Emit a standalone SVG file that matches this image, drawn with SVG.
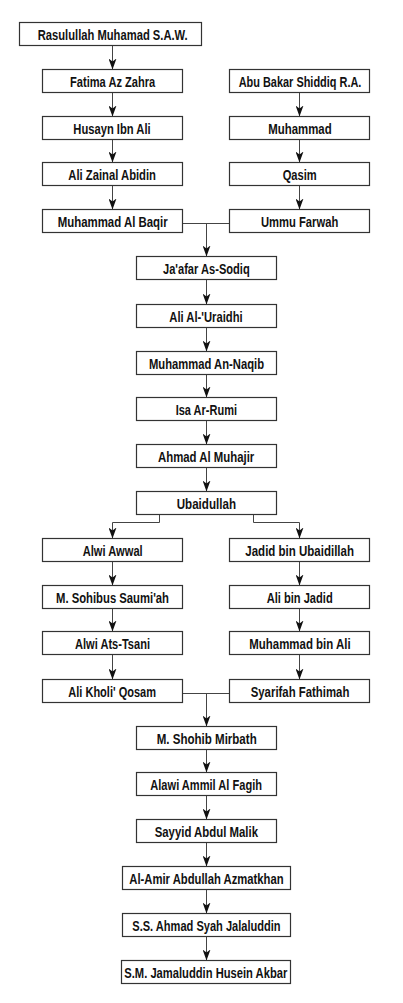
<svg xmlns="http://www.w3.org/2000/svg" width="403" height="1003" viewBox="0 0 403 1003">
<defs>
<style>
.box{fill:#fff;stroke:#333;stroke-width:1.2}
.lbl{font-family:"Liberation Sans",Arial,sans-serif;font-weight:bold;font-size:15.5px;fill:#111}
.ln{fill:none;stroke:#444;stroke-width:1}
.ar{marker-end:url(#ah)}
</style>
<marker id="ah" markerWidth="11" markerHeight="8" refX="11" refY="4" orient="auto" markerUnits="userSpaceOnUse"><path d="M0,0 L11,4 L0,8 L3,4 z" fill="#111"/></marker>
</defs>
<rect width="403" height="1003" fill="#fff"/>
<g id="connectors">
<path class="ln ar" d="M112.5 45.5 V69.5"/>
<path class="ln ar" d="M112.5 92.5 V116.5"/>
<path class="ln ar" d="M112.5 139.5 V162.5"/>
<path class="ln ar" d="M112.5 185.5 V209.5"/>
<path class="ln ar" d="M299.5 92.5 V116.5"/>
<path class="ln ar" d="M299.5 139.5 V162.5"/>
<path class="ln ar" d="M299.5 185.5 V209.5"/>
<path class="ln" d="M182.5 223.5 H229.5"/>
<path class="ln ar" d="M206.5 223.5 V256.5"/>
<path class="ln ar" d="M206.5 279.5 V304.5"/>
<path class="ln ar" d="M206.5 327.5 V351.5"/>
<path class="ln ar" d="M206.5 374.5 V397.5"/>
<path class="ln ar" d="M206.5 420.5 V444.5"/>
<path class="ln ar" d="M206.5 467.5 V491.5"/>
<path class="ln ar" d="M159.5 514.5 V522.5 H112.5 V538.5"/>
<path class="ln ar" d="M253.5 514.5 V522.5 H299.5 V538.5"/>
<path class="ln ar" d="M112.5 561.5 V585.5"/>
<path class="ln ar" d="M112.5 608.5 V631.5"/>
<path class="ln ar" d="M112.5 654.5 V679.5"/>
<path class="ln ar" d="M299.5 561.5 V585.5"/>
<path class="ln ar" d="M299.5 608.5 V631.5"/>
<path class="ln ar" d="M299.5 654.5 V679.5"/>
<path class="ln" d="M182.5 693.5 H229.5"/>
<path class="ln ar" d="M206.5 693.5 V726.5"/>
<path class="ln ar" d="M206.5 749.5 V772.5"/>
<path class="ln ar" d="M206.5 795.5 V819.5"/>
<path class="ln ar" d="M206.5 842.5 V866.5"/>
<path class="ln ar" d="M206.5 889.5 V913.5"/>
<path class="ln ar" d="M206.5 936.5 V960.5"/>
</g>
<g id="n_rasulullah"><rect class="box" x="19.5" y="22.5" width="182" height="23"/><text class="lbl" x="37.7" y="39.8" textLength="150" lengthAdjust="spacingAndGlyphs">Rasulullah Muhamad S.A.W.</text></g>
<g id="n_fatima"><rect class="box" x="42.5" y="69.5" width="140" height="23"/><text class="lbl" x="70" y="86.8" textLength="85.3" lengthAdjust="spacingAndGlyphs">Fatima Az Zahra</text></g>
<g id="n_abubakar"><rect class="box" x="229.5" y="69.5" width="140" height="23"/><text class="lbl" x="238.7" y="86.8" textLength="122.7" lengthAdjust="spacingAndGlyphs">Abu Bakar Shiddiq R.A.</text></g>
<g id="n_husayn"><rect class="box" x="42.5" y="116.5" width="140" height="23"/><text class="lbl" x="73.3" y="133.8" textLength="77.3" lengthAdjust="spacingAndGlyphs">Husayn Ibn Ali</text></g>
<g id="n_muhammad1"><rect class="box" x="229.5" y="116.5" width="140" height="23"/><text class="lbl" x="268.3" y="133.8" textLength="63.3" lengthAdjust="spacingAndGlyphs">Muhammad</text></g>
<g id="n_alizainal"><rect class="box" x="42.5" y="162.5" width="140" height="23"/><text class="lbl" x="68.3" y="179.8" textLength="87.7" lengthAdjust="spacingAndGlyphs">Ali Zainal Abidin</text></g>
<g id="n_qasim"><rect class="box" x="229.5" y="162.5" width="140" height="23"/><text class="lbl" x="282.7" y="179.8" textLength="34" lengthAdjust="spacingAndGlyphs">Qasim</text></g>
<g id="n_baqir"><rect class="box" x="42.5" y="209.5" width="140" height="23"/><text class="lbl" x="57.7" y="226.8" textLength="110" lengthAdjust="spacingAndGlyphs">Muhammad Al Baqir</text></g>
<g id="n_ummu"><rect class="box" x="229.5" y="209.5" width="140" height="23"/><text class="lbl" x="261" y="226.8" textLength="77.3" lengthAdjust="spacingAndGlyphs">Ummu Farwah</text></g>
<g id="n_jaafar"><rect class="box" x="136.5" y="256.5" width="140" height="23"/><text class="lbl" x="163" y="273.8" textLength="86.7" lengthAdjust="spacingAndGlyphs">Ja'afar As-Sodiq</text></g>
<g id="n_uraidhi"><rect class="box" x="136.5" y="304.5" width="140" height="23"/><text class="lbl" x="169.3" y="321.8" textLength="73.3" lengthAdjust="spacingAndGlyphs">Ali Al-'Uraidhi</text></g>
<g id="n_naqib"><rect class="box" x="136.5" y="351.5" width="140" height="23"/><text class="lbl" x="149" y="368.8" textLength="115" lengthAdjust="spacingAndGlyphs">Muhammad An-Naqib</text></g>
<g id="n_isa"><rect class="box" x="136.5" y="397.5" width="140" height="23"/><text class="lbl" x="175.7" y="414.8" textLength="61.3" lengthAdjust="spacingAndGlyphs">Isa Ar-Rumi</text></g>
<g id="n_ahmad"><rect class="box" x="136.5" y="444.5" width="140" height="23"/><text class="lbl" x="158" y="461.8" textLength="96.3" lengthAdjust="spacingAndGlyphs">Ahmad Al Muhajir</text></g>
<g id="n_ubaidullah"><rect class="box" x="136.5" y="491.5" width="140" height="23"/><text class="lbl" x="176.7" y="508.8" textLength="59.3" lengthAdjust="spacingAndGlyphs">Ubaidullah</text></g>
<g id="n_alwiawwal"><rect class="box" x="42.5" y="538.5" width="140" height="23"/><text class="lbl" x="82.7" y="555.8" textLength="60" lengthAdjust="spacingAndGlyphs">Alwi Awwal</text></g>
<g id="n_jadid"><rect class="box" x="229.5" y="538.5" width="140" height="23"/><text class="lbl" x="245.3" y="555.8" textLength="108.7" lengthAdjust="spacingAndGlyphs">Jadid bin Ubaidillah</text></g>
<g id="n_sohibus"><rect class="box" x="42.5" y="585.5" width="140" height="23"/><text class="lbl" x="56" y="602.8" textLength="113" lengthAdjust="spacingAndGlyphs">M. Sohibus Saumi'ah</text></g>
<g id="n_alibinjadid"><rect class="box" x="229.5" y="585.5" width="140" height="23"/><text class="lbl" x="266.7" y="602.8" textLength="66" lengthAdjust="spacingAndGlyphs">Ali bin Jadid</text></g>
<g id="n_alwitsani"><rect class="box" x="42.5" y="631.5" width="140" height="23"/><text class="lbl" x="75" y="648.8" textLength="75" lengthAdjust="spacingAndGlyphs">Alwi Ats-Tsani</text></g>
<g id="n_muhammadbinali"><rect class="box" x="229.5" y="631.5" width="140" height="23"/><text class="lbl" x="249.3" y="648.8" textLength="101.3" lengthAdjust="spacingAndGlyphs">Muhammad bin Ali</text></g>
<g id="n_alikholi"><rect class="box" x="42.5" y="679.5" width="140" height="23"/><text class="lbl" x="68.3" y="696.8" textLength="87.7" lengthAdjust="spacingAndGlyphs">Ali Kholi' Qosam</text></g>
<g id="n_syarifah"><rect class="box" x="229.5" y="679.5" width="140" height="23"/><text class="lbl" x="250.7" y="696.8" textLength="98.7" lengthAdjust="spacingAndGlyphs">Syarifah Fathimah</text></g>
<g id="n_mirbath"><rect class="box" x="136.5" y="726.5" width="140" height="23"/><text class="lbl" x="156.7" y="743.8" textLength="100" lengthAdjust="spacingAndGlyphs">M. Shohib Mirbath</text></g>
<g id="n_alawi"><rect class="box" x="136.5" y="772.5" width="140" height="23"/><text class="lbl" x="150.3" y="789.8" textLength="111.7" lengthAdjust="spacingAndGlyphs">Alawi Ammil Al Fagih</text></g>
<g id="n_sayyid"><rect class="box" x="136.5" y="819.5" width="140" height="23"/><text class="lbl" x="154.7" y="836.8" textLength="103.3" lengthAdjust="spacingAndGlyphs">Sayyid Abdul Malik</text></g>
<g id="n_alamir"><rect class="box" x="122.5" y="866.5" width="168" height="23"/><text class="lbl" x="129.3" y="883.8" textLength="154.3" lengthAdjust="spacingAndGlyphs">Al-Amir Abdullah Azmatkhan</text></g>
<g id="n_ssahmad"><rect class="box" x="122.5" y="913.5" width="168" height="23"/><text class="lbl" x="132.3" y="930.8" textLength="148.3" lengthAdjust="spacingAndGlyphs">S.S. Ahmad Syah Jalaluddin</text></g>
<g id="n_smjamaluddin"><rect class="box" x="121.5" y="960.5" width="169" height="23"/><text class="lbl" x="124.3" y="977.8" textLength="163" lengthAdjust="spacingAndGlyphs">S.M. Jamaluddin Husein Akbar</text></g>
</svg>
